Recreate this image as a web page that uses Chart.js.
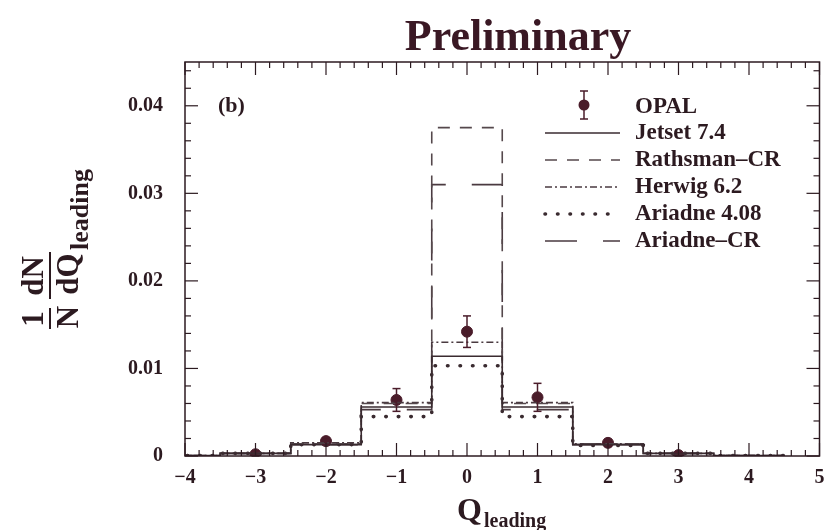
<!DOCTYPE html>
<html>
<head>
<meta charset="utf-8">
<script src="https://cdn.jsdelivr.net/npm/chart.js@4.4.1/dist/chart.umd.min.js"></script>
<style>
  html, body { margin: 0; padding: 0; background: #fff; }
  #wrap { width: 826px; height: 530px; }
</style>
</head>
<body>
<div id="wrap"><canvas id="c" width="826" height="530"></canvas></div>
<script>
// Q_leading bins (centres, width 1)
const binCenters = [-4, -3, -2, -1, 0, 1, 2, 3, 4];
const jetset    = [0.00005, 0.0003, 0.0013, 0.0056, 0.0114, 0.0056, 0.0013, 0.0003, 0.00005];
const rathsman  = [0.00005, 0.0003, 0.0014, 0.0060, 0.0375, 0.0060, 0.0014, 0.0003, 0.00005];
const herwig    = [0.00005, 0.0003, 0.0015, 0.0061, 0.0130, 0.0061, 0.0014, 0.0003, 0.00005];
const ariadne   = [0.00005, 0.0003, 0.0013, 0.0045, 0.0103, 0.0045, 0.0012, 0.0003, 0.00005];
const ariadneCR = [0.00005, 0.0003, 0.0013, 0.0053, 0.0310, 0.0053, 0.0013, 0.0003, 0.00005];

// OPAL data points
const opalX   = [-3, -2, -1, 0, 1, 2, 3];
const opalY   = [0.0002, 0.0017, 0.0064, 0.0142, 0.0067, 0.0015, 0.0001];
const opalErr = [0.0003, 0.0004, 0.0013, 0.0018, 0.0016, 0.0004, 0.0003];

const xTicks = [-4, -3, -2, -1, 0, 1, 2, 3, 4, 5];
const yTicks = [0, 0.01, 0.02, 0.03, 0.04];

const serif = "'Liberation Serif', 'DejaVu Serif', serif";
const ink = '#2c1a20';
const lineInk = '#3a2b30';
const markInk = '#4a1c2a';

// histogram -> step points on the bin edges
function stepPoints(values) {
  const pts = binCenters.map((c, i) => ({ x: c - 0.5, y: values[i] }));
  const last = binCenters.length - 1;
  pts.push({ x: binCenters[last] + 0.5, y: values[last] });
  return pts;
}

const models = [
  { label: 'Jetset 7.4',   data: jetset,    dash: [],            width: 1.6, color: lineInk },
  { label: 'Rathsman\u2013CR', data: rathsman, dash: [12, 10],    width: 1.6, color: '#55484c' },
  { label: 'Herwig 6.2',   data: herwig,    dash: [7, 3, 2, 3],  width: 1.6, color: '#4a3a40' },
  { label: 'Ariadne 4.08', data: ariadne,   dash: [0.5, 12],     width: 3.6, color: lineInk, cap: 'round' },
  { label: 'Ariadne\u2013CR', data: ariadneCR, dash: [32, 26],   width: 1.6, color: '#4a3a40', offset: -13 }
];

const datasets = models.map(m => ({
  type: 'line',
  label: m.label,
  data: stepPoints(m.data),
  stepped: true,
  borderColor: m.color,
  borderWidth: m.width,
  borderDash: m.dash,
  borderDashOffset: m.offset || 0,
  borderCapStyle: m.cap || 'butt',
  pointRadius: 0,
  fill: false
}));

datasets.push({
  type: 'scatter',
  label: 'OPAL',
  data: opalX.map((x, i) => ({ x, y: opalY[i] })),
  backgroundColor: markInk,
  borderColor: markInk,
  pointRadius: 5.5,
  showLine: false
});

function seg(ctx, x1, y1, x2, y2) {
  ctx.beginPath(); ctx.moveTo(x1, y1); ctx.lineTo(x2, y2); ctx.stroke();
}

// error bars for the OPAL points
const errorBars = {
  id: 'errorBars',
  afterDatasetsDraw(chart) {
    const { ctx, scales: { x, y } } = chart;
    ctx.save();
    ctx.strokeStyle = markInk;
    ctx.lineWidth = 1.5;
    opalX.forEach((xv, i) => {
      const px = x.getPixelForValue(xv);
      const top = y.getPixelForValue(opalY[i] + opalErr[i]);
      const bot = y.getPixelForValue(Math.max(0, opalY[i] - opalErr[i]));
      seg(ctx, px, top, px, bot);
      seg(ctx, px - 4, top, px + 4, top);
      seg(ctx, px - 4, bot, px + 4, bot);
    });
    ctx.restore();
  }
};

// frame with inward ticks on all sides
const frame = {
  id: 'frame',
  afterDraw(chart) {
    const { ctx, chartArea: a, scales: { x, y } } = chart;
    ctx.save();
    ctx.strokeStyle = ink;
    ctx.lineWidth = 1.5;
    ctx.strokeRect(a.left, a.top, a.right - a.left, a.bottom - a.top);
    ctx.lineWidth = 1.2;
    for (let k = 0; k <= 45; k++) {
      const v = -4 + k * 0.2;
      const px = x.getPixelForValue(v);
      const len = k % 5 === 0 ? 13 : 6;
      seg(ctx, px, a.bottom, px, a.bottom - len);
      seg(ctx, px, a.top, px, a.top + len);
    }
    for (let k = 0; k <= 22; k++) {
      const py = y.getPixelForValue(k * 0.002);
      const len = k % 5 === 0 ? 13 : 6;
      seg(ctx, a.left, py, a.left + len, py);
      seg(ctx, a.right, py, a.right - len, py);
    }
    ctx.restore();
  }
};

// titles, axis labels and legend
const labels = {
  id: 'labels',
  afterDraw(chart) {
    const { ctx } = chart;
    ctx.save();
    ctx.fillStyle = '#3a1824';
    ctx.font = `bold 44px ${serif}`;
    ctx.textAlign = 'center';
    ctx.textBaseline = 'alphabetic';
    ctx.fillText('Preliminary', 518, 50);

    ctx.fillStyle = ink;
    ctx.font = `bold 22px ${serif}`;
    ctx.textAlign = 'left';
    ctx.textBaseline = 'middle';
    ctx.fillText('(b)', 218, 106);

    // x title: Q_leading
    ctx.textBaseline = 'alphabetic';
    ctx.font = `bold 32px ${serif}`;
    ctx.fillText('Q', 457, 520);
    ctx.font = `bold 20px ${serif}`;
    ctx.fillText('leading', 484, 527);

    // y title: 1/N dN/dQ_leading, rotated
    ctx.translate(50, 328);
    ctx.rotate(-Math.PI / 2);
    ctx.font = `bold 31px ${serif}`;
    ctx.textAlign = 'center';
    ctx.fillText('1', 9, -7);
    ctx.fillText('N', 11, 28);
    ctx.fillText('dN', 52, -7);
    ctx.fillText('dQ', 54, 28);
    ctx.textAlign = 'left';
    ctx.font = `bold 26px ${serif}`;
    ctx.fillText('leading', 78, 38);
    ctx.lineWidth = 2;
    ctx.strokeStyle = ink;
    seg(ctx, -1, 0, 20, 0);
    seg(ctx, 29, 0, 76, 0);
    ctx.restore();

    // legend
    ctx.save();
    const rowY = [107, 133, 160, 187, 214, 241];
    const lx1 = 545, lx2 = 620, tx = 635;
    ctx.font = `bold 23px ${serif}`;
    ctx.fillStyle = ink;
    ctx.textBaseline = 'middle';
    ctx.fillText('OPAL', tx, rowY[0]);
    ctx.strokeStyle = markInk;
    ctx.fillStyle = markInk;
    ctx.lineWidth = 1.5;
    seg(ctx, 584, rowY[0] - 16, 584, rowY[0] + 12);
    seg(ctx, 580, rowY[0] - 16, 588, rowY[0] - 16);
    seg(ctx, 580, rowY[0] + 12, 588, rowY[0] + 12);
    ctx.beginPath(); ctx.arc(584, rowY[0] - 2, 5.5, 0, Math.PI * 2); ctx.fill();
    models.forEach((m, i) => {
      const yy = rowY[i + 1];
      ctx.strokeStyle = m.color;
      ctx.lineWidth = m.width;
      ctx.lineCap = m.cap || 'butt';
      ctx.setLineDash(m.dash);
      seg(ctx, lx1, yy, lx2, yy);
      ctx.setLineDash([]);
      ctx.lineCap = 'butt';
      ctx.fillStyle = ink;
      ctx.fillText(m.label, tx, yy);
    });
    ctx.restore();
  }
};

new Chart(document.getElementById('c'), {
  data: { datasets },
  options: {
    responsive: false,
    animation: false,
    layout: { padding: { top: 62, right: 4, left: 0, bottom: 0 } },
    plugins: { legend: { display: false }, tooltip: { enabled: false }, title: { display: false } },
    scales: {
      x: {
        type: 'linear',
        min: -4,
        max: 5,
        afterBuildTicks: s => { s.ticks = xTicks.map(v => ({ value: v })); },
        afterFit: s => { s.height = 74; s.paddingLeft = 0; s.paddingRight = 0; },
        grid: { display: false, drawTicks: false },
        border: { display: false },
        ticks: {
          padding: 10,
          color: ink,
          font: { family: serif, size: 20, weight: 'bold' },
          callback: v => (v < 0 ? '\u2212' + Math.abs(v) : String(v))
        }
      },
      y: {
        type: 'linear',
        min: 0,
        max: 0.045,
        afterBuildTicks: s => { s.ticks = yTicks.map(v => ({ value: v })); },
        afterFit: s => { s.width = 185; s.paddingTop = 0; s.paddingBottom = 0; },
        grid: { display: false, drawTicks: false },
        border: { display: false },
        ticks: {
          padding: 22,
          color: ink,
          font: { family: serif, size: 20, weight: 'bold' },
          callback: v => (v === 0 ? '0' : v.toFixed(2))
        }
      }
    }
  },
  plugins: [errorBars, frame, labels]
});
</script>
</body>
</html>
